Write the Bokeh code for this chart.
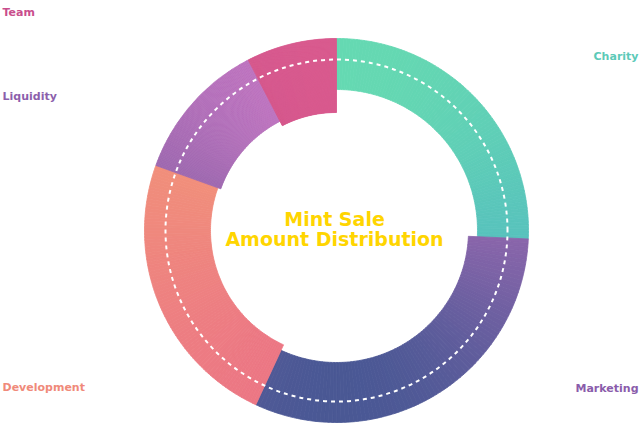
import numpy as np
from bokeh.plotting import figure
from bokeh.models import Range1d, ColumnDataSource
from bokeh.core.properties import value
from bokeh.embed import file_html
from bokeh.resources import INLINE

# ---- data ----
categories = ["Charity", "Marketing", "Development", "Liquidity", "Team"]
shares = [25.7, 31.2, 23.6, 11.9, 7.6]
title_lines = ["Mint Sale", "Amount Distribution"]

# ---- style ----
W, H = 639, 423
CX, CY_SCREEN = 336, 230
CY = H - CY_SCREEN
OUTER_R = 192
inner_radii = [141, 132, 126, 123, 118]
grad_top = ["#67dcb0", "#8b66ab", "#f1907a", "#c978c5", "#de5a90"]
grad_bottom = ["#58c2bd", "#3d5590", "#eb7386", "#9966ad", "#d0558a"]
label_colors = ["#5ccab8", "#8a5cab", "#f08a7a", "#8c5fac", "#c94d8c"]
label_pos = {  # screen positions (x, y, align)
    "Team": (2, 12, "left"),
    "Liquidity": (2, 96, "left"),
    "Development": (2, 387, "left"),
    "Charity": (638, 56, "right"),
    "Marketing": (638, 388, "right"),
}


def hex2rgb(h):
    h = h.lstrip("#")
    return np.array([int(h[i:i + 2], 16) for i in (0, 2, 4)], dtype=float)


def mix(c0, c1, t):
    c = hex2rgb(c0) * (1 - t) + hex2rgb(c1) * t
    return "#%02x%02x%02x" % tuple(int(round(v)) for v in c)


p = figure(width=W, height=H, output_backend="svg", toolbar_location=None,
           x_range=Range1d(0, W), y_range=Range1d(0, H), min_border=0,
           background_fill_color="white", border_fill_color="white")
p.axis.visible = False
p.grid.visible = False
p.outline_line_color = None

total = float(sum(shares))
cum = np.concatenate([[0.0], np.cumsum(shares) / total]) * 2 * np.pi
N = 90

xs, ys, ri, ro, sa, ea, cols = [], [], [], [], [], [], []
for i, cat in enumerate(categories):
    a0, a1 = cum[i], cum[i + 1]
    rin = inner_radii[i]
    dense = np.linspace(a0, a1, 200)
    ypts = np.concatenate([CY_SCREEN - r * np.cos(dense) for r in (rin, OUTER_R)])
    ymin, ymax = ypts.min(), ypts.max()
    edges = np.linspace(a0, a1, N + 1)
    rm = (rin + OUTER_R) / 2
    for k in range(N):
        t0, t1 = edges[k], edges[k + 1]
        th = (t0 + t1) / 2
        ysc = CY_SCREEN - rm * np.cos(th)
        t = (ysc - ymin) / (ymax - ymin)
        xs.append(CX)
        ys.append(CY)
        ri.append(rin)
        ro.append(OUTER_R)
        sa.append(np.pi / 2 - t1)
        ea.append(np.pi / 2 - t0)
        cols.append(mix(grad_top[i], grad_bottom[i], t))

src = ColumnDataSource(dict(x=xs, y=ys, ri=ri, ro=ro, sa=sa, ea=ea, c=cols))
p.annular_wedge(x="x", y="y", inner_radius="ri", outer_radius="ro",
                start_angle="sa", end_angle="ea", fill_color="c",
                line_color="c", line_width=0.8, source=src)

# dashed white guide circle
p.arc(x=[CX], y=[CY], radius=171, start_angle=0, end_angle=2 * np.pi,
      line_color="white", line_width=2, line_dash="4 4")

# centre title
p.text(x=[CX - 2, CX - 2], y=[CY + 12, CY - 8], text=title_lines,
       text_align="center", text_baseline="middle",
       text_font=value("DejaVu Sans"), text_font_style="bold",
       text_font_size="19px", text_color="#FFD500")

# corner labels
for cat, col in zip(categories, label_colors):
    lx, ly, al = label_pos[cat]
    p.text(x=[lx], y=[H - ly], text=[cat], text_align=al,
           text_baseline="middle", text_font=value("DejaVu Sans"),
           text_font_style="bold", text_font_size="11px", text_color=col)

open("out.html", "w").write(file_html(p, INLINE))
